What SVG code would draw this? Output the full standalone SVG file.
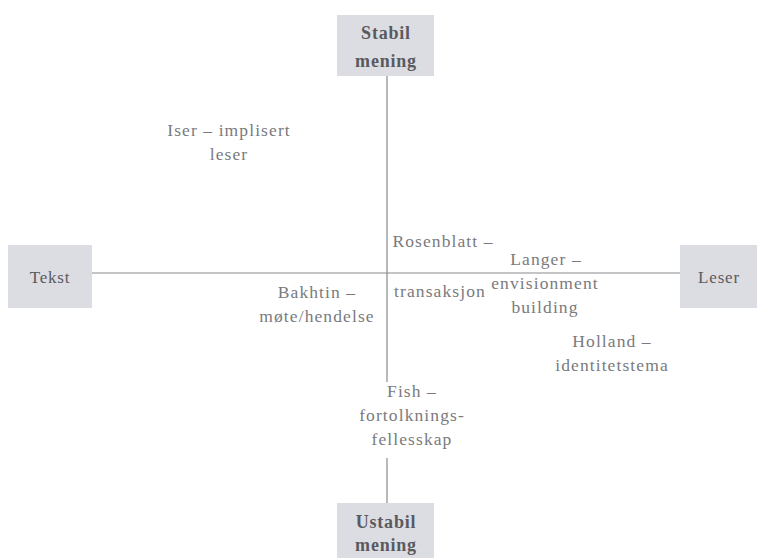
<svg xmlns="http://www.w3.org/2000/svg" width="757" height="558" viewBox="0 0 757 558">
<style>
.box{fill:#dcdde3;}
.bt{font-family:"Liberation Serif",serif;font-size:18px;font-weight:bold;fill:#5a5a5e;text-anchor:middle;letter-spacing:0.8px;}
.bn{font-family:"Liberation Serif",serif;font-size:17px;fill:#5a5a5e;text-anchor:middle;letter-spacing:0.8px;}
.t{font-family:"Liberation Serif",serif;font-size:17.5px;fill:#7a7a7e;text-anchor:middle;letter-spacing:1.1px;}
.ln{stroke:#8a8a8e;stroke-width:1.2;fill:none;}
</style>
<rect width="757" height="558" fill="#ffffff"/>
<g id="connectors">
<line class="ln" x1="387" y1="76" x2="387" y2="382"/>
<line class="ln" x1="387" y1="458" x2="387" y2="503"/>
<line class="ln" x1="92" y1="273" x2="680" y2="273"/>
</g>
<g id="stabil">
<rect class="box" x="337" y="15" width="97" height="61"/>
<text class="bt" x="386" y="39">Stabil</text>
<text class="bt" x="386" y="67">mening</text>
</g>
<g id="tekst">
<rect class="box" x="8" y="245" width="84" height="63"/>
<text class="bn" x="50" y="283">Tekst</text>
</g>
<g id="leser">
<rect class="box" x="680" y="245" width="77" height="63"/>
<text class="bn" x="719" y="283">Leser</text>
</g>
<g id="ustabil">
<rect class="box" x="337" y="503" width="97" height="55"/>
<text class="bt" x="386" y="528">Ustabil</text>
<text class="bt" x="386" y="551">mening</text>
</g>
<g id="iser">
<text class="t" x="229" y="136">Iser – implisert</text>
<text class="t" x="229" y="160">leser</text>
</g>
<g id="rosenblatt">
<text class="t" x="443" y="247">Rosenblatt –</text>
<text class="t" x="440" y="297">transaksjon</text>
</g>
<g id="langer">
<text class="t" x="546" y="265">Langer –</text>
<text class="t" x="545" y="289">envisionment</text>
<text class="t" x="545" y="313">building</text>
</g>
<g id="bakhtin">
<text class="t" x="317" y="298">Bakhtin –</text>
<text class="t" x="317" y="322">møte/hendelse</text>
</g>
<g id="holland">
<text class="t" x="612" y="347">Holland –</text>
<text class="t" x="612" y="371">identitetstema</text>
</g>
<g id="fish">
<text class="t" x="412" y="397">Fish –</text>
<text class="t" x="412" y="421">fortolknings-</text>
<text class="t" x="412" y="445">fellesskap</text>
</g>
</svg>
